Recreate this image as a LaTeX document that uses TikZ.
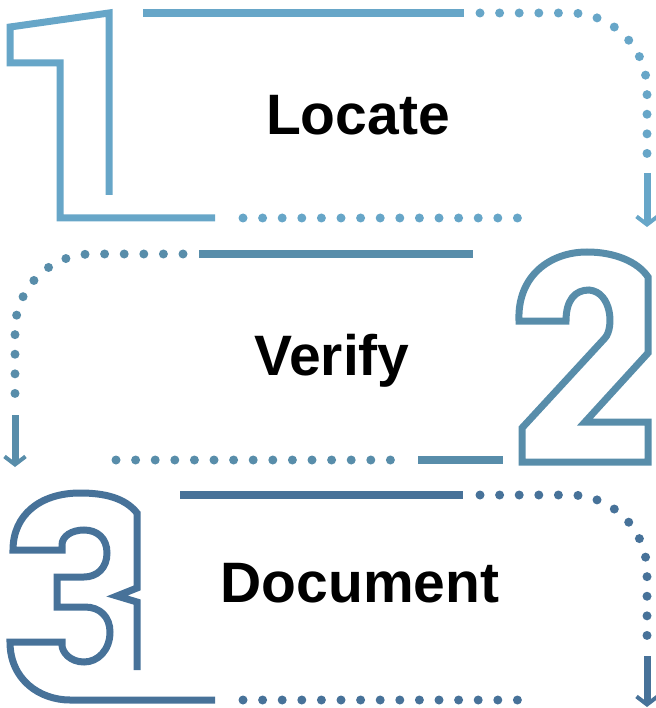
\documentclass[tikz,border=0pt]{standalone}
\usepackage{fontspec}
\setmainfont{Liberation Sans}
\usepackage{tikz}
\usetikzlibrary{arrows.meta}
\definecolor{stepone}{RGB}{103,166,200}
\definecolor{steptwo}{RGB}{88,141,170}
\definecolor{stepthree}{RGB}{71,114,153}
\tikzstyle{digit} = [line width=7pt, line join=miter]
\tikzstyle{bar} = [line width=7.5pt]
\tikzstyle{dots} = [line width=9pt, line cap=round, dash pattern=on 0pt off 19.6pt]
\tikzstyle{flow} = [line width=7pt, -{Straight Barb[length=8pt,width=21pt,line width=4pt]}]
\tikzstyle{stagetext} = [font=\fontsize{57}{60}\selectfont\bfseries, anchor=base, inner sep=0pt]

\begin{document}
\begin{tikzpicture}[x=1pt, y=-1pt]

   \useasboundingbox (0,0) rectangle (655,708);

   % step 1
   \draw[digit, stepone] (109,195) -- (109,13) -- (10,27) -- (10,63) -- (60,63) -- (60,218) -- (215,218);
   \coordinate (barone) at (143,13);
   \coordinate (barone') at (464,13);
   \draw[bar, stepone] (barone) -- (barone');
   \draw[dots, stepone, rounded corners=77pt] (480,13) -- (647,13) -- (647,155);
   \draw[dots, stepone] (243,218) -- (518,218);
   \coordinate (flowone) at (647,173);
   \coordinate (flowone') at (647,227);
   \draw[flow, stepone] (flowone) -- (flowone');

   % step 2
   \draw[digit, steptwo] (519,321) .. controls (517,276) and (550,252) .. (587,252)
        .. controls (615,252) and (638,262) .. (648,277) -- (648,353) -- (585,422) -- (648,422)
        -- (648,462) -- (522,462) -- (522,428) -- (605,338)
        .. controls (614,328) and (612,292) .. (589,290)
        .. controls (575,290) and (566,300) .. (566,321) -- cycle;
   \coordinate (bartwo) at (199,254);
   \coordinate (bartwo') at (473,254);
   \draw[bar, steptwo] (bartwo) -- (bartwo');
   \draw[dots, steptwo, rounded corners=77pt] (183,254) -- (15,254) -- (15,397);
   \draw[dots, steptwo] (116,460) -- (391,460);
   \coordinate (bartwob) at (418,460);
   \coordinate (bartwob') at (503,460);
   \draw[bar, steptwo] (bartwob) -- (bartwob');
   \coordinate (flowtwo) at (15,415);
   \coordinate (flowtwo') at (15,467);
   \draw[flow, steptwo] (flowtwo) -- (flowtwo');

   % step 3
   \draw[digit, stepthree] (137,670) -- (137,602) -- (117,596) -- (137,588) -- (137,513)
        .. controls (125,498) and (105,493) .. (80,493)
        .. controls (40,493) and (13,515) .. (13,550) -- (62,550) -- (62,545)
        .. controls (62,536) and (72,530) .. (84,530)
        .. controls (97,530) and (107,538) .. (107,553)
        .. controls (107,568) and (97,577) .. (84,577) -- (57,577) -- (57,607) -- (85,607)
        .. controls (100,607) and (110,617) .. (110,632)
        .. controls (110,650) and (98,662) .. (84,662)
        .. controls (70,662) and (62,652) .. (62,645) -- (62,642) -- (10,642)
        .. controls (10,680) and (40,700) .. (70,700) -- (215,700);
   \coordinate (barthree) at (180,495);
   \coordinate (barthree') at (463,495);
   \draw[bar, stepthree] (barthree) -- (barthree');
   \draw[dots, stepthree, rounded corners=77pt] (480,495) -- (647,495) -- (647,638);
   \draw[dots, stepthree] (243,700) -- (518,700);
   \coordinate (flowthree) at (647,656);
   \coordinate (flowthree') at (647,707);
   \draw[flow, stepthree] (flowthree) -- (flowthree');

   % labels
   \foreach \pos/ \name / \word in {{(358,135)/locate/Locate}, {(332,375)/verify/Verify}, {(360,602)/document/Document}}
       \node[stagetext] (\name) at \pos {\word};

\end{tikzpicture}
\end{document}
